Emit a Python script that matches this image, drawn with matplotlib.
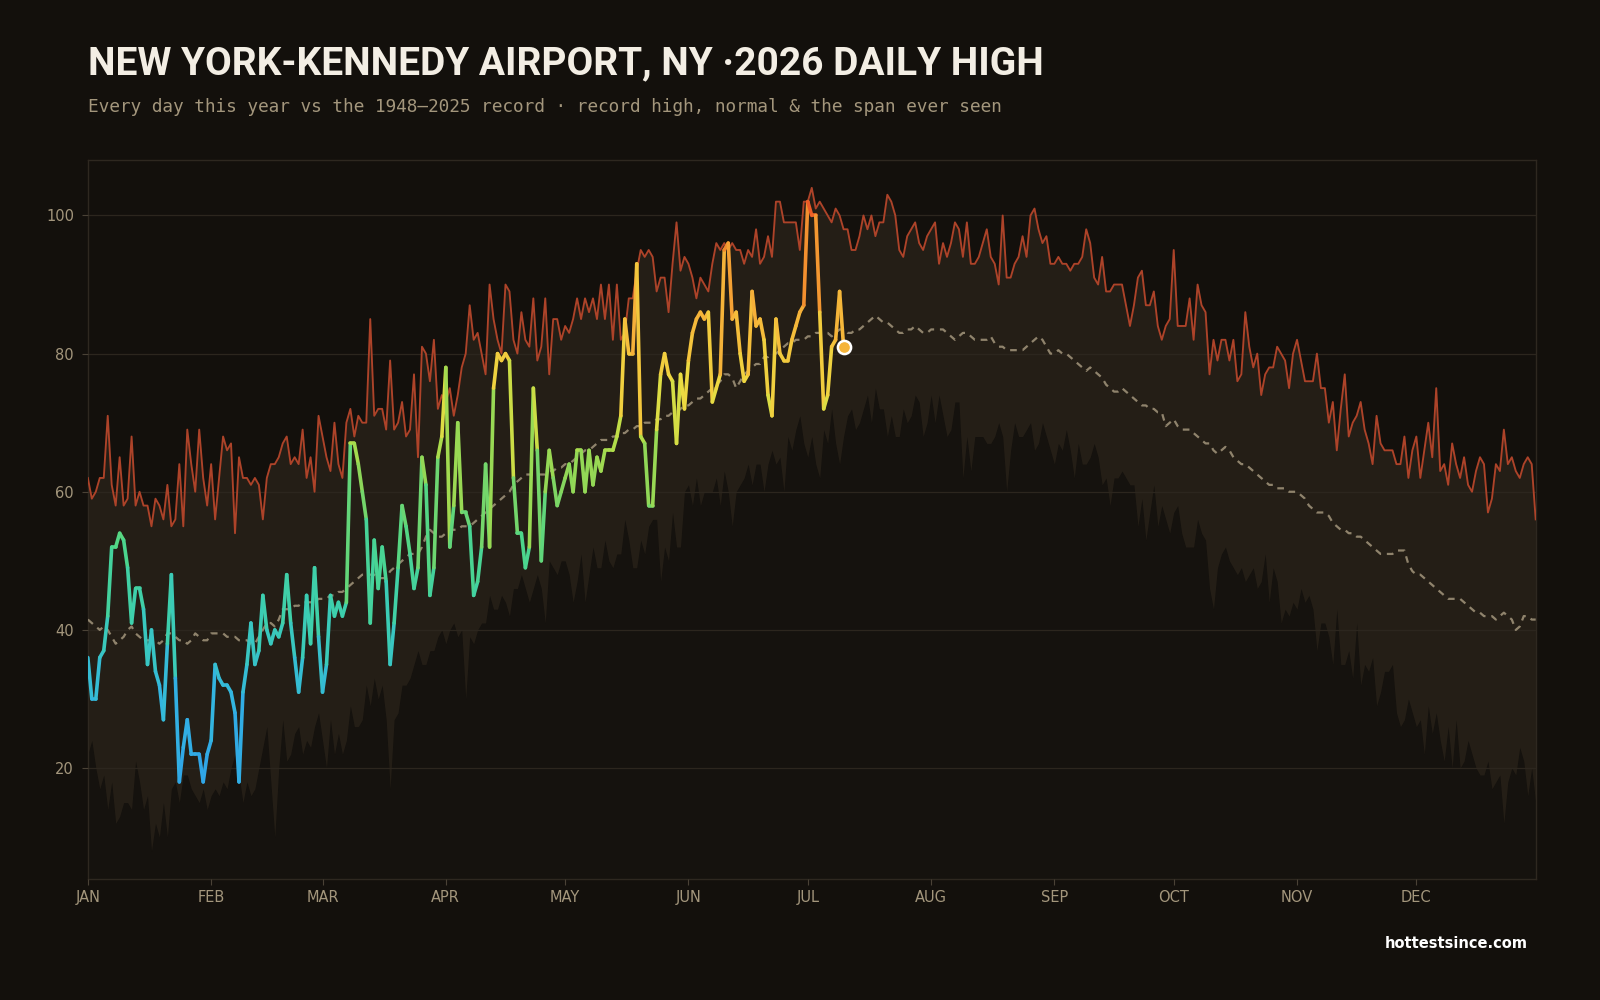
import numpy as np
import matplotlib
matplotlib.use("Agg")
import matplotlib.pyplot as plt
from matplotlib.collections import LineCollection
from matplotlib.colors import LinearSegmentedColormap, Normalize

# month labels and first day-of-year of each month
months = ["JAN", "FEB", "MAR", "APR", "MAY", "JUN",
          "JUL", "AUG", "SEP", "OCT", "NOV", "DEC"]
month_start = [0, 31, 59, 90, 120, 151, 181, 212, 243, 273, 304, 334]

# record high for each day (1948-2025), deg F
record_high = [
    62, 59, 60, 62, 62, 71, 61, 58, 65, 58, 59, 68, 58, 60, 58, 58, 55, 59, 58, 56, 61, 55, 56, 64, 55, 69, 64, 60, 69, 62, 58,
    64, 56, 62, 68, 66, 67, 54, 65, 62, 62, 61, 62, 61, 56, 62, 64, 64, 65, 67, 68, 64, 65, 64, 69, 62, 65, 60, 71,
    68, 65, 63, 70, 64, 62, 70, 72, 68, 71, 70, 70, 85, 71, 72, 72, 69, 79, 69, 70, 73, 68, 69, 77, 65, 81, 80, 76, 82, 72, 74,
    73, 75, 71, 74, 78, 80, 87, 82, 83, 80, 77, 90, 85, 82, 80, 90, 89, 82, 80, 86, 82, 81, 88, 79, 81, 88, 77, 85, 85, 82,
    84, 83, 85, 88, 85, 88, 86, 88, 85, 90, 85, 90, 82, 90, 82, 83, 88, 88, 92, 95, 94, 95, 94, 89, 91, 91, 86, 93, 99, 92, 94,
    93, 91, 88, 91, 90, 89, 93, 96, 95, 96, 95, 96, 95, 95, 93, 95, 94, 98, 93, 94, 97, 94, 102, 102, 99, 99, 99, 99, 95, 102,
    102, 104, 101, 102, 101, 100, 99, 101, 100, 98, 98, 95, 95, 97, 100, 98, 100, 97, 99, 99, 103, 102, 100, 95, 94, 97, 98, 99, 96, 95, 97,
    98, 99, 93, 96, 94, 96, 99, 98, 94, 99, 93, 93, 94, 96, 98, 94, 93, 90, 100, 91, 91, 93, 94, 97, 94, 100, 101, 98, 96, 97, 93,
    93, 94, 93, 93, 92, 93, 93, 94, 98, 96, 91, 90, 94, 89, 89, 90, 90, 90, 87, 84, 87, 91, 92, 87, 87, 89, 84, 82, 84, 85,
    95, 84, 84, 84, 88, 82, 90, 87, 86, 77, 82, 79, 82, 82, 79, 82, 76, 77, 86, 81, 78, 80, 74, 77, 78, 78, 81, 80, 79, 75, 80,
    82, 79, 76, 76, 76, 80, 75, 75, 70, 73, 66, 72, 77, 68, 70, 71, 73, 69, 67, 64, 71, 67, 66, 66, 66, 64, 64, 68, 62, 66,
    68, 62, 66, 70, 65, 75, 63, 64, 61, 67, 64, 62, 65, 61, 60, 63, 65, 64, 57, 59, 64, 63, 69, 64, 65, 63, 62, 64, 65, 64, 56,
]

# lowest daily high ever seen for each day (bottom of the span)
record_low_high = [
    22, 24, 20, 17, 19, 14, 18, 12, 13, 15, 15, 14, 21, 18, 14, 16, 8, 12, 10, 15, 10, 17, 18, 15, 19, 19, 17, 16, 15, 17, 14,
    16, 17, 16, 18, 17, 20, 22, 19, 15, 18, 16, 17, 20, 23, 26, 18, 10, 20, 27, 21, 22, 25, 26, 22, 24, 23, 26, 28,
    24, 20, 27, 22, 25, 22, 24, 29, 26, 26, 27, 32, 29, 33, 30, 32, 27, 17, 27, 28, 32, 32, 33, 35, 37, 35, 35, 37, 37, 39, 40,
    38, 40, 41, 39, 40, 30, 39, 38, 40, 41, 41, 45, 43, 43, 45, 44, 42, 46, 46, 48, 46, 44, 46, 48, 46, 41, 50, 49, 48, 50,
    50, 48, 44, 47, 51, 44, 48, 52, 49, 49, 53, 50, 49, 51, 51, 56, 53, 49, 49, 53, 51, 55, 56, 56, 47, 52, 50, 57, 52, 52, 60,
    61, 58, 62, 58, 60, 60, 60, 62, 58, 63, 60, 55, 60, 61, 62, 64, 61, 64, 64, 60, 64, 66, 64, 65, 60, 68, 66, 69, 71, 67,
    65, 68, 64, 62, 69, 67, 72, 67, 64, 68, 71, 72, 69, 70, 72, 74, 70, 75, 72, 72, 68, 71, 68, 68, 72, 70, 71, 74, 73, 68, 70,
    74, 70, 74, 71, 68, 69, 73, 73, 62, 68, 63, 68, 68, 68, 67, 67, 68, 70, 68, 60, 66, 70, 68, 68, 69, 70, 66, 67, 70, 68, 66,
    64, 67, 66, 69, 66, 62, 67, 64, 64, 65, 67, 65, 61, 62, 58, 62, 62, 63, 62, 61, 61, 55, 59, 53, 57, 61, 55, 58, 56, 54,
    57, 58, 54, 52, 52, 52, 56, 54, 53, 46, 43, 49, 51, 52, 50, 49, 48, 49, 47, 48, 49, 46, 47, 51, 44, 49, 47, 41, 43, 42, 44,
    43, 46, 44, 45, 43, 37, 41, 41, 39, 35, 43, 35, 35, 37, 33, 41, 32, 35, 34, 36, 29, 31, 34, 34, 35, 28, 26, 27, 30, 28,
    26, 27, 22, 29, 25, 28, 24, 21, 26, 20, 27, 20, 21, 24, 22, 20, 19, 19, 21, 17, 18, 19, 12, 18, 20, 19, 23, 21, 16, 20, 15,
]

# normal daily high
normal_high = [
    41.5, 41, 40.5, 40, 40.5, 40, 39, 38, 38.5, 39, 40, 40.5, 39.5, 39, 38.5, 38.5, 38.5, 38.5, 38, 38.5, 39.5, 39.5, 39, 38.5, 38.5, 38, 38.5, 39.5, 39, 38.5, 38.5,
    39.5, 39.5, 39.5, 39.5, 39, 39, 39, 38.5, 38.5, 38.5, 38, 38, 39, 40, 41, 41, 40.5, 41.5, 43, 43, 43, 43.5, 43.5, 44, 44, 44, 44, 44.5,
    44.5, 44.5, 45, 45, 45.5, 45.5, 46, 46.5, 47, 47.5, 48, 48, 48, 48, 47.5, 47.5, 47.5, 48.5, 49, 49.5, 50, 50.5, 51, 51, 51, 52, 53.5, 54.5, 54, 53.5, 53.5,
    54, 54.5, 54.5, 54.5, 55, 55, 55, 55.5, 56, 56.5, 57, 57.5, 58, 58.5, 59, 59.5, 60, 61, 61.5, 62, 62.5, 62.5, 62.5, 62.5, 62.5, 62.5, 63, 63, 63.5, 63.5,
    64, 64, 64.5, 65, 65.5, 66, 66, 66.5, 67, 67.5, 67.5, 67.5, 68, 68, 68.5, 68.5, 69, 69, 69.5, 69.5, 70, 70, 70, 70.5, 70.5, 71, 71, 71.5, 71.5, 72, 72.5,
    72.5, 73, 73.5, 73.5, 74, 74.5, 75, 75.5, 76, 77, 77, 76.5, 75, 76, 77, 77.5, 78, 78.5, 78.5, 79.5, 79.5, 80, 80, 80.5, 81, 81.5, 81.5, 82, 82, 82,
    82.5, 82.5, 83, 83, 83, 83, 82.5, 83, 83.5, 83.5, 83, 83, 83.5, 83.5, 84, 84.5, 85, 85.5, 85, 84.5, 84.5, 84, 83.5, 83, 83, 83.5, 83.5, 84, 83.5, 83, 83,
    83.5, 83.5, 83.5, 83.5, 83, 82.5, 82, 82.5, 83, 83, 82.5, 82, 82, 82, 82, 82.5, 81.5, 81, 81, 80.5, 80.5, 80.5, 80.5, 80.5, 81, 81.5, 82, 82.5, 82, 81, 80,
    80, 80.5, 80, 80, 79.5, 79, 78.5, 78, 77.5, 78, 77.5, 77, 76.5, 75.5, 75, 74.5, 74.5, 75, 74.5, 74, 73.5, 73, 72.5, 72.5, 72, 72, 71.5, 71.5, 69.5, 70,
    70.5, 69.5, 69, 69, 69, 68.5, 68, 67.5, 67, 67, 66, 65.5, 66, 66.5, 66, 65, 64.5, 64, 64, 63.5, 63, 62.5, 62, 61.5, 61, 61, 60.5, 60.5, 60.5, 60, 60,
    60, 59.5, 59, 58, 57.5, 57, 57, 57, 56.5, 55.5, 55, 54.5, 54.5, 54, 54, 53.5, 53.5, 53, 52.5, 52, 51.5, 51, 51, 51, 51, 51.5, 51.5, 51.5, 49.5, 48.5,
    48, 48, 47.5, 47, 46.5, 46, 45.5, 45, 44.5, 44.5, 44.5, 44.5, 44, 43.5, 43, 42.5, 42.5, 42, 42, 42, 41.5, 42, 42.5, 42, 41.5, 40, 40.5, 42, 42, 41.5, 41.5,
]

# 2026 daily highs so far (Jan 1 - Jul 10)
this_year = [
    36, 30, 30, 36, 37, 42, 52, 52, 54, 53, 49, 41, 46, 46, 43, 35, 40, 34, 32, 27, 38, 48, 33, 18, 23, 27, 22, 22, 22, 18, 22,
    24, 35, 33, 32, 32, 31, 28, 18, 31, 35, 41, 35, 37, 45, 40, 38, 40, 39, 41, 48, 41, 36, 31, 36, 45, 38, 49, 39,
    31, 35, 45, 42, 44, 42, 44, 67, 67, 64, 60, 56, 41, 53, 46, 52, 47, 35, 41, 49, 58, 55, 51, 46, 49, 65, 61, 45, 49, 65, 68,
    78, 52, 58, 70, 57, 57, 55, 45, 47, 52, 64, 52, 75, 80, 79, 80, 79, 62, 54, 54, 49, 52, 75, 66, 50, 60, 66, 62, 58, 60,
    62, 64, 60, 66, 66, 60, 66, 61, 65, 63, 66, 66, 66, 68, 71, 85, 80, 80, 93, 68, 67, 58, 58, 69, 77, 80, 77, 76, 67, 77, 72,
    79, 83, 85, 86, 85, 86, 73, 75, 77, 95, 96, 85, 86, 80, 76, 77, 89, 84, 85, 82, 74, 71, 85, 80, 79, 79, 82, 84, 86, 87,
    102, 100, 100, 86, 72, 74, 81, 82, 89, 81,
]

assert len(record_high) == len(record_low_high) == len(normal_high) == 365

BG = "#13100c"
BAND = "#241e16"
RED = "#ad4329"
TAN = "#a3967c"

temp_colors = LinearSegmentedColormap.from_list("temps", [
    (0.00, "#2f9fea"), (0.17, "#33b6e0"), (0.31, "#3ccfb0"), (0.42, "#4dd68a"),
    (0.53, "#8ad65a"), (0.60, "#b5de48"), (0.68, "#ecdc42"), (0.76, "#f5c23c"),
    (0.83, "#f5ac38"), (0.91, "#f38e2e"), (0.966, "#ee6628"), (1.00, "#e84a25"),
])
norm = Normalize(vmin=15, vmax=103)


def main():
    days = np.arange(len(record_high))
    hi = np.array(record_high)
    lo = np.array(record_low_high)

    fig = plt.figure(figsize=(16, 10), dpi=100, facecolor=BG)
    ax = fig.add_axes([0.0549, 0.1214, 0.9049, 0.7184], facecolor=BG)

    ax.fill_between(days, 4, lo, color="#15120e", lw=0, zorder=1)
    ax.fill_between(days, lo, hi, color=BAND, lw=0, zorder=1)
    ax.plot(days, hi, color=RED, lw=1.35, zorder=3)
    ax.plot(days, normal_high, color="#9c8f76", lw=1.6, dashes=(3, 2.6), alpha=0.9, zorder=3)

    # this year, coloured day by day
    yy = np.array(this_year, dtype=float)
    xx = np.arange(len(yy))
    pts = np.column_stack([xx, yy])
    segs = np.stack([pts[:-1], pts[1:]], axis=1)
    lc = LineCollection(segs, colors=temp_colors(norm((yy[:-1] + yy[1:]) / 2)),
                        linewidths=2.6, capstyle="round", joinstyle="round", zorder=4)
    ax.add_collection(lc)
    ax.plot(xx[-1], yy[-1], "o", ms=9.5, mfc="#f5b43a", mec="white", mew=1.8, zorder=5)

    ax.set_xlim(0, 364)
    ax.set_ylim(4, 108)
    ax.set_xticks(month_start)
    ax.set_xticklabels(months)
    ax.set_yticks([20, 40, 60, 80, 100])

    ax.yaxis.grid(True, color="#2c261e", lw=0.9)
    ax.set_axisbelow(False)
    for s in ax.spines.values():
        s.set_color("#2e2820")
        s.set_linewidth(1.0)
    ax.tick_params(colors="#4a4236", length=4, width=0.8, labelcolor=TAN, labelsize=10.5)
    ax.tick_params(axis="x", pad=4)
    ax.tick_params(axis="y", pad=6)

    fig.text(0.055, 0.926, "NEW YORK-KENNEDY AIRPORT, NY \u00b72026 DAILY HIGH",
             family="Roboto", weight="bold", fontsize=28, color="#f3eee4", va="baseline")
    fig.text(0.055, 0.888, "Every day this year vs the 1948\u20132025 record \u00b7 record high, normal & the span ever seen",
             family="DejaVu Sans Mono", fontsize=12.8, color=TAN, va="baseline")
    fig.text(0.955, 0.056, "hottestsince.com", family="DejaVu Sans", weight="bold",
             fontsize=10.5, color="white", ha="right", va="center")

    fig.savefig("out.png", dpi=100, facecolor=BG)


if __name__ == "__main__":
    main()
